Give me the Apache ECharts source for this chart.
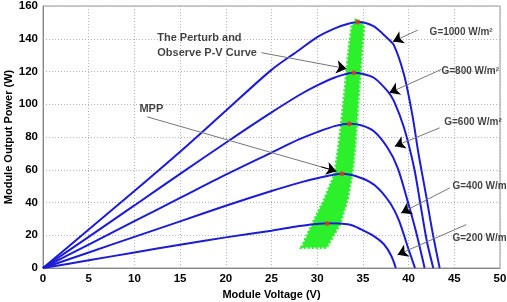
<!DOCTYPE html>
<html>
<head>
<meta charset="utf-8">
<script src="https://cdn.jsdelivr.net/npm/echarts@6/dist/echarts.min.js"></script>
<style>
  html, body { margin: 0; padding: 0; background: #fff; }
  #chart { width: 507px; height: 302px; }
</style>
</head>
<body>
<div id="chart"></div>
<script>
// P-V curves (voltage V, power W)
const g1000 = [[0,0],[5,23.5],[10,47],[15,71],[20,96],[25,121],[28,133],[30,141],[32,146.5],[33.5,149.3],[34.5,150.2],[36.1,147.8],[37.6,140.8],[38.4,136],[39.5,118],[40.4,93.8],[41.1,69.3],[41.9,44.8],[42.6,22.4],[43.4,0]];
const g800 = [[0,0],[5,19],[10,38.2],[15,57.5],[20,76.5],[25,95],[28,105.5],[30,111.5],[32,116.5],[34,119.3],[34.8,118.8],[36.2,116.2],[37.7,108],[38.4,101.9],[39.5,85.6],[40.6,61.2],[41.3,38.7],[42,16.3],[42.7,0]];
const g600 = [[0,0],[5,14.3],[10,28.6],[15,42.8],[20,57],[25,70.5],[28,78.5],[30,83],[32,86.8],[33.5,88.1],[34.8,87.2],[36.2,83.5],[37.7,73.4],[38.8,61.2],[39.8,42.8],[40.8,22.4],[41.75,0]];
const g400 = [[0,0],[5,9.5],[10,19],[15,28.5],[20,38],[25,47],[28,52],[30,54.8],[31.5,56.6],[32.7,57.5],[34.8,55],[36.3,50.5],[37.9,40.3],[38.95,29],[39.9,13],[40.7,0]];
const g200 = [[0,0],[5,4.7],[10,9.5],[15,14.2],[20,18.7],[25,22.8],[28,25.6],[30,26.9],[31.1,27.4],[33.5,26.5],[34.8,23.6],[36.2,19.5],[37.3,14.5],[38.1,7.5],[38.6,0]];
const curves = [g1000, g800, g600, g400, g200];
const curveNames = ['G=1000 W/m²', 'G=800 W/m²', 'G=600 W/m²', 'G=400 W/m²', 'G=200 W/m²'];

// maximum power points (red dots)
const mppPoints = [[34.4,150.2],[34.0,119.3],[33.5,88.1],[32.7,57.5],[31.1,27.2]];

// green band of perturb & observe operating points (left and right edges)
const bandLeft = [[28.3,12.5],[29.5,27],[30.8,42],[31.9,57],[32.3,72],[32.65,88],[32.95,104],[33.2,119],[33.5,135],[33.8,148],[34.3,152]];
const bandRight = [[31.0,12.5],[32.5,27],[33.3,42],[33.8,57],[34.1,72],[34.3,88],[34.5,104],[34.7,119],[34.9,135],[35.1,148],[34.3,152]];

// annotation texts and arrows (start -> tip)
const noteTexts = ['The Perturb and\nObserve P-V Curve', 'MPP', 'G=1000 W/m²', 'G=800 W/m²', 'G=600 W/m²', 'G=400 W/m²', 'G=200 W/m²'];
const notePos = [[12.5,136.1],[10.55,97.2],[42.3,143.9],[43.6,120],[43.9,88.9],[44.8,49.9],[44.8,18.3]];
const noteSize = [11, 11, 10, 10, 10, 10, 10];
const arrowStart = [[23.9,131.5],[11.4,92.3],[41.0,145.3],[43.6,121.3],[43.4,85.6],[44.5,48.9],[46.3,26.5]];
const arrowTip = [[33.2,121.7],[32.1,59.1],[38.3,138.3],[37.9,107],[38.5,74.4],[39.2,33.6],[38.8,8.1]];

const font = '"Liberation Sans", Arial, sans-serif';

const chart = echarts.init(document.getElementById('chart'));

const series = [];

// P&O band
series.push({
    type: 'custom',
    z: 1,
    silent: true,
    clip: false,
    data: [[0, 0]],
    renderItem: function (params, api) {
        const pts = bandLeft.concat(bandRight.slice().reverse()).map(p => api.coord(p));
        return {
            type: 'polygon',
            shape: { points: pts },
            style: { fill: '#2cf02c', stroke: '#2cf02c', lineWidth: 3, lineDash: [2, 2] }
        };
    }
});

curves.forEach((c, i) => {
    series.push({
        name: curveNames[i],
        type: 'line',
        z: 3,
        data: c,
        smooth: 0.3,
        showSymbol: false,
        lineStyle: { color: '#1c1cd6', width: 2 }
    });
});

series.push({
    type: 'scatter',
    z: 4,
    data: mppPoints,
    symbolSize: 5,
    itemStyle: { color: '#e0401c' }
});

// arrows: gray shaft + short black tip carrying the arrow head
const shafts = arrowStart.map((s, i) => [{ coord: s }, { coord: arrowTip[i] }]);
const heads = arrowStart.map((s, i) => {
    const t = arrowTip[i];
    const from = [t[0] - 0.08 * (t[0] - s[0]), t[1] - 0.08 * (t[1] - s[1])];
    return [{ coord: from }, { coord: t }];
});

series.push({
    type: 'scatter',
    z: 5,
    clip: false,
    symbolSize: 0,
    data: notePos.map((p, i) => ({
        name: noteTexts[i],
        value: p,
        label: { fontSize: noteSize[i] }
    })),
    label: {
        show: true,
        position: [0, 0],
        align: 'left',
        verticalAlign: 'middle',
        formatter: '{b}',
        fontFamily: font,
        fontWeight: 'bold',
        color: '#111',
        lineHeight: 15
    },
    markLine: {
        silent: true,
        animation: false,
        symbol: ['none', 'none'],
        label: { show: false },
        lineStyle: { color: '#777', width: 1, type: 'solid' },
        data: shafts
    }
});

series.push({
    type: 'line',
    z: 6,
    data: [],
    markLine: {
        silent: true,
        animation: false,
        symbol: ['none', 'arrow'],
        symbolSize: 10,
        label: { show: false },
        lineStyle: { color: '#000', width: 1, type: 'solid' },
        data: heads
    }
});

chart.setOption({
    animation: false,
    backgroundColor: '#fff',
    grid: {
        left: 43, right: 7, top: 6, bottom: 34,
        outerBoundsMode: 'none',
        show: true, borderColor: '#999', borderWidth: 1
    },
    xAxis: {
        type: 'value',
        min: 0, max: 50, interval: 5,
        name: 'Module Voltage (V)',
        nameLocation: 'middle',
        nameGap: 21,
        nameMoveOverlap: false,
        nameTextStyle: { fontFamily: font, fontWeight: 'bold', fontSize: 11, color: '#000' },
        axisLine: { lineStyle: { color: '#888' } },
        axisTick: { show: false },
        axisLabel: { fontFamily: font, fontWeight: 'bold', fontSize: 11.5, color: '#000', margin: 5 },
        splitLine: { lineStyle: { color: '#b4b4b4', type: [1, 2] } }
    },
    yAxis: {
        type: 'value',
        min: 0, max: 160, interval: 20,
        name: 'Module Output Power (W)',
        nameLocation: 'middle',
        nameGap: 29,
        nameMoveOverlap: false,
        nameTextStyle: { fontFamily: font, fontWeight: 'bold', fontSize: 11, color: '#000' },
        axisLine: { show: true, lineStyle: { color: '#888' } },
        axisTick: { show: false },
        axisLabel: { fontFamily: font, fontWeight: 'bold', fontSize: 11.5, color: '#000', margin: 5 },
        splitLine: { lineStyle: { color: '#b4b4b4', type: [1, 2] } }
    },
    series: series
});
</script>
</body>
</html>
